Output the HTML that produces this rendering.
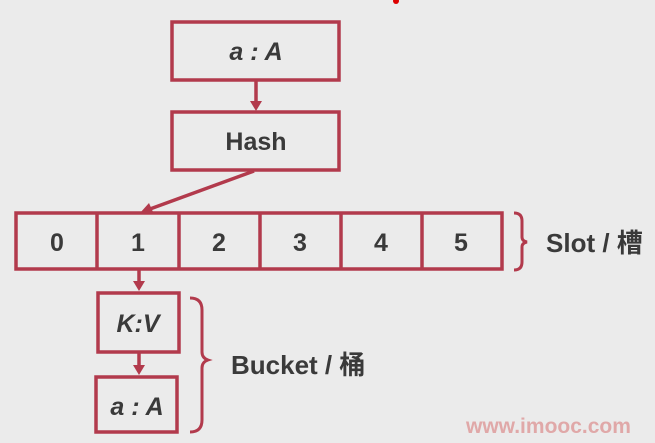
<!DOCTYPE html>
<html><head><style>
body{margin:0;width:655px;height:438px;background:#ebebeb;overflow:hidden}
svg text{font-family:"Liberation Sans","Noto Sans CJK SC",sans-serif;font-weight:bold;fill:#3a3a3a}
</style></head><body>
<svg width="655" height="438" viewBox="0 0 655 438">
<g fill="none" stroke="#b23a4c" stroke-width="3.5">
<rect x="172" y="22" width="167" height="58"/>
<rect x="172" y="112" width="167" height="58"/>
<rect x="16" y="213" width="486" height="56"/>
<line x1="97" y1="213" x2="97" y2="269"/>
<line x1="179" y1="213" x2="179" y2="269"/>
<line x1="260" y1="213" x2="260" y2="269"/>
<line x1="341" y1="213" x2="341" y2="269"/>
<line x1="422" y1="213" x2="422" y2="269"/>
<rect x="98" y="293" width="81" height="59"/>
<rect x="96" y="377" width="81" height="55"/>
<line x1="256" y1="80" x2="256" y2="102"/>
<line x1="254" y1="171" x2="150" y2="209"/>
<line x1="139" y1="269" x2="139" y2="282"/>
<line x1="139" y1="352" x2="139" y2="366"/>
<path d="M514 213 q8 0 8 8 v16 q0 4 5 5 q-5 1 -5 5 v15 q0 8 -8 8" stroke-width="3"/>
<path d="M190 298 q12 0 12 12 v42 q0 6 6 8 q-6 2 -6 8 v52 q0 12 -12 12" stroke-width="3"/>
</g>
<g fill="#b23a4c">
<polygon points="250,101 262,101 256,111"/>
<polygon points="140,213 149,203 153,212"/>
<polygon points="133,281 145,281 139,291"/>
<polygon points="133,365 145,365 139,375"/>
</g>
<text x="256" y="60" font-size="25" font-style="italic" text-anchor="middle">a : A</text>
<text x="256" y="150" font-size="25" text-anchor="middle">Hash</text>
<g font-size="25" text-anchor="middle">
<text x="57" y="251">0</text><text x="138" y="251">1</text><text x="219" y="251">2</text>
<text x="300" y="251">3</text><text x="381" y="251">4</text><text x="461" y="251">5</text>
</g>
<text x="546" y="252" font-size="26">Slot / 槽</text>
<text x="138" y="332" font-size="25" font-style="italic" text-anchor="middle">K:V</text>
<text x="137" y="415" font-size="25" font-style="italic" text-anchor="middle">a : A</text>
<text x="231" y="374" font-size="26">Bucket / 桶</text>
<text x="466" y="433" font-size="21" style="fill:#e0a8a8">www.imooc.com</text>
<circle cx="396" cy="1" r="3" fill="#d00"/>
</svg>
</body></html>
